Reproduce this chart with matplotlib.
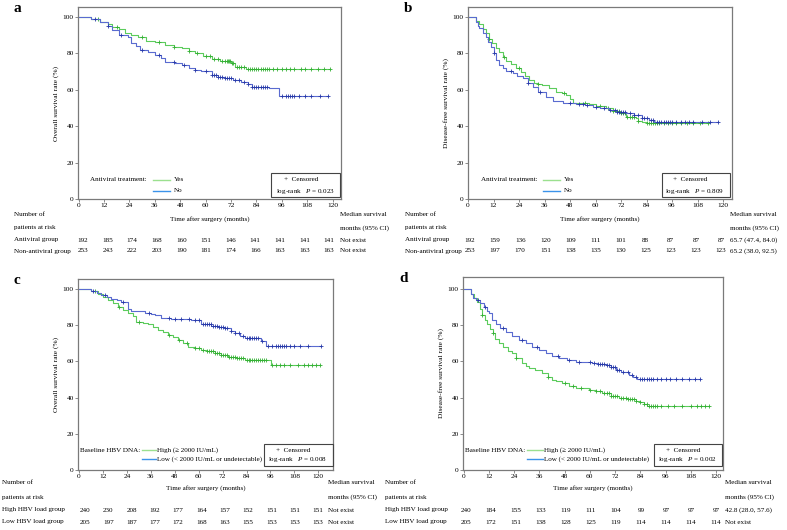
"""
Curvas de Kaplan-Meier (4 paneles) con tablas de pacientes en riesgo.
Salida: out.png (787x530)
"""

import numpy as np

import matplotlib
matplotlib.use("Agg")
import matplotlib.pyplot as plt
from matplotlib.lines import Line2D
from matplotlib.patches import Rectangle

plt.rcParams["font.family"] = ["Liberation Serif", "DejaVu Serif"]
plt.rcParams["mathtext.fontset"] = "custom"
plt.rcParams["mathtext.rm"] = "Liberation Serif"
plt.rcParams["mathtext.it"] = "Liberation Serif:italic"

# ---------------- datos ----------------
MESES = [0, 12, 24, 36, 48, 60, 72, 84, 96, 108, 120]

# a: sobrevida global, antiviral si / no
a_yes_t = [0, 6, 10, 14, 16, 19, 22, 25, 28, 32, 36, 41, 45, 49, 52, 55, 59, 63, 67, 72, 74, 79]
a_yes_s = [100, 99, 97.5, 96, 94.7, 93.5, 91, 90, 89.2, 87, 86.5, 84.6, 83.5, 82.8, 81.5, 80, 78.5, 76.8, 76, 75, 72.7, 71.2]
a_yes_end = 119
a_yes_cens = [9, 18, 30, 38, 45, 52, 56, 60, 62, 64, 66, 68, 69, 70, 70.5, 71, 71.5, 72.5, 73, 75, 76, 77, 78, 80, 81, 82,
              83, 84, 85, 86, 87, 88, 89, 90, 92, 94, 96, 98, 100, 102, 105, 107, 110, 113, 116, 119]
a_no_t = [0, 6, 10, 14, 16, 19, 23.6, 25, 27, 29, 33, 36, 39, 41, 45.7, 49, 52, 55, 58, 63, 66, 69, 73, 77, 80, 82, 90, 94.5]
a_no_s = [100, 99, 97.5, 95, 92.8, 90, 89.2, 85.5, 84, 81.9, 80.5, 79.1, 77.5, 75.5, 75, 73.5, 71.8, 71, 70.3, 68.1,
          67.3, 66.3, 65.5, 64.5, 63, 61.4, 60.8, 56.6]
a_no_end = 118
a_no_cens = [8, 14, 20, 30, 38, 45, 50, 55, 60, 63, 64, 65, 66, 67, 68, 69, 70, 71, 72, 74, 76, 78, 80, 82, 83, 84, 85,
             86, 87, 88, 89, 96, 98, 99, 100, 101, 102, 104, 107, 110, 114, 118]

# b: sobrevida libre de enfermedad, antiviral si / no
b_yes_t = [0, 3.8, 5, 7, 8.5, 10, 11.5, 13.2, 14.5, 16.3, 18, 20, 22.6, 25, 27, 28.9, 31, 33, 35, 38, 41.4, 44, 46, 48,
           49.3, 57, 60, 65, 68, 71.2, 74.3, 79, 80, 82, 84]
b_yes_s = [100, 98, 96, 93.5, 91, 88, 85.5, 82.8, 80.5, 78.2, 76, 74, 71.8, 70, 67.5, 65.4, 64, 63, 62.6, 61, 59, 58,
           57.1, 55, 53, 52.3, 51, 49.9, 48.5, 47.1, 45, 44.4, 43, 42.5, 41.8]
b_yes_end = 113
b_yes_cens = [10, 17, 24, 33, 45, 55, 62, 66, 68, 70, 71, 72, 73, 74, 75, 76, 77, 78, 80, 84, 85, 86, 87, 88, 89, 90,
              92, 94, 96, 98, 100, 103, 106, 109, 113]
b_no_t = [0, 3.8, 4.5, 5.3, 7, 8.5, 9.5, 10.8, 12, 13.2, 14.5, 16.3, 18, 21, 23, 25.7, 28, 30.4, 33, 36.7, 40, 44.5,
          50.8, 55, 58.7, 62, 66.5, 70, 74.3, 78, 82, 85, 87.6]
b_no_s = [100, 97, 95, 93.7, 91, 89.2, 86.5, 83.7, 80, 76.4, 73.5, 71.8, 70.5, 69.1, 67.5, 66.3, 64, 61.7, 59, 56.2,
          54, 52.6, 52, 51.5, 50.7, 50, 48.9, 48, 47.1, 46, 44.4, 43.5, 42.3]
b_no_end = 117.6
b_no_cens = [12, 20, 28, 34, 48, 52, 54, 56, 60, 64, 67, 69, 70, 71, 72, 73, 74, 76, 78, 80, 82, 83, 84, 86, 87, 89,
             90, 91, 92, 93, 94, 95, 96, 98, 100, 102, 104, 106, 110, 114, 117.6]

# c: sobrevida global, carga HBV alta / baja
c_high_t = [0, 6, 9.5, 12, 14.5, 17, 19.6, 22, 24.6, 27, 28.8, 32, 34.6, 37, 39.6, 42, 44.6, 47, 49.6, 52, 54.7, 58,
            61.4, 64, 68, 71, 74.7, 79, 83, 96.4]
c_high_s = [100, 99, 97.4, 95.5, 93.8, 92, 90.1, 88.5, 86.5, 85, 81.9, 81, 80.4, 79, 77.3, 76, 74.6, 73.5, 71.8, 70,
            68.2, 67.5, 66.3, 65.7, 64.9, 63.8, 62.7, 61.8, 60.9, 58.1]
c_high_end = 120.7
c_high_cens = [8, 20, 30, 45, 50, 54, 58, 60, 62, 64, 65, 66, 67, 68, 69, 70, 71, 72, 73, 74, 75, 76, 77, 78, 79, 80,
               81, 82, 84, 85, 86, 87, 88, 89, 90, 91, 92, 93, 94, 97, 99, 101, 103, 106, 110, 113, 115, 117, 119, 120.7]
c_low_t = [0, 6.2, 9, 11.2, 14, 16.2, 19, 21.2, 24.6, 26.2, 32.9, 36, 38, 41.3, 46.3, 56.3, 61.4, 66.4, 70, 73, 76,
           78, 80.5, 83, 91.4, 93.9]
c_low_s = [100, 99, 97.8, 96.5, 95.5, 94.7, 93.8, 92.9, 89.2, 87.7, 87, 86.2, 85.5, 84.1, 83.3, 82.8, 80.4, 79.5,
           78.8, 78.2, 76.8, 75.5, 74, 72.7, 71.2, 68.5]
c_low_end = 121.5
c_low_cens = [7, 13, 22, 35, 45, 48, 51, 55, 58, 60, 62, 63, 64, 65, 66, 67, 68, 69, 70, 71, 72, 73, 74, 76, 78, 80,
              82, 84, 85, 86, 87, 88, 89, 90, 92, 95, 97, 99, 100, 101, 102, 103, 104, 106, 108, 111, 115, 121.5]

# d: sobrevida libre de enfermedad, carga HBV alta / baja
d_high_t = [0, 3.5, 5, 6.6, 8, 9, 10, 11.4, 12.5, 13.8, 15, 16.9, 19, 21, 23.2, 25, 28, 29.5, 31.1, 34, 37.5, 40,
            42.2, 44, 46.9, 50, 53.3, 59.6, 63, 66, 70, 73.9, 78, 81.8, 84, 85.8, 87.3]
d_high_s = [100, 97, 95, 92.9, 89, 85.5, 83, 80.9, 78, 75.5, 72.5, 69.9, 68, 66, 64.5, 62, 59, 57.5, 56.2, 55, 53.5,
            51.5, 49.9, 49, 48.1, 46.5, 45.3, 44.4, 43.5, 42.6, 41, 39.9, 39, 38.1, 37.5, 36.6, 35.2]
d_high_end = 116.7
d_high_cens = [9, 14, 25, 40, 48, 52, 56, 60, 63, 65, 67, 68, 69, 70, 71, 72, 73, 75, 76, 77, 78, 79, 80, 81, 82, 84,
               86, 87, 88, 89, 90, 91, 92, 94, 97, 100, 104, 108, 111, 113, 115, 116.7]
d_low_t = [0, 3.5, 4.5, 5.9, 8, 9.8, 11, 12.2, 13.5, 15.3, 17.5, 20.1, 23, 26.4, 29.5, 32.7, 36, 39, 42, 45.4, 49,
           53.3, 61.2, 64, 67.5, 70, 72.3, 75, 78.6, 80.5, 82.5]
d_low_s = [100, 97, 95, 93.8, 92, 90.1, 88, 86.5, 83, 80.4, 78.5, 76.4, 74, 71.8, 70, 68.2, 66.5, 64.5, 63, 61.7,
           60.5, 59.9, 59, 58.5, 58.1, 56.8, 55.3, 54, 52.6, 51.3, 50.2]
d_low_end = 112.4
d_low_cens = [7, 10, 19, 28, 35, 45, 50, 55, 60, 62, 64, 65, 66, 67, 68, 69, 70, 71, 72, 73, 74, 76, 78, 80, 82, 84,
              85, 86, 87, 88, 89, 90, 92, 94, 96, 98, 101, 104, 107, 110, 112.4]

# tablas de pacientes en riesgo
a_risk_yes = [192, 185, 174, 168, 160, 151, 146, 141, 141, 141, 141]
a_risk_no = [253, 243, 222, 203, 190, 181, 174, 166, 163, 163, 163]
b_risk_yes = [192, 159, 136, 120, 109, 111, 101, 88, 87, 87, 87]
b_risk_no = [253, 197, 170, 151, 138, 135, 130, 125, 123, 123, 123]
c_risk_high = [240, 230, 208, 192, 177, 164, 157, 152, 151, 151, 151]
c_risk_low = [205, 197, 187, 177, 172, 168, 163, 155, 153, 153, 153]
d_risk_high = [240, 184, 155, 133, 119, 111, 104, 99, 97, 97, 97]
d_risk_low = [205, 172, 151, 138, 128, 125, 119, 114, 114, 114, 114]

a_median = ["Not exist", "Not exist"]
b_median = ["65.7 (47.4, 84.0)", "65.2 (38.0, 92.5)"]
c_median = ["Not exist", "Not exist"]
d_median = ["42.8 (28.0, 57.6)", "Not exist"]

grupos_av = ["Antiviral group", "Non-antiviral group"]
grupos_hbv = ["High HBV load group", "Low HBV load group"]

# ---------------- estilo ----------------
W, H = 787, 530
VERDE, AZUL = "#5ccc5c", "#5a6bd0"
VERDE_C, AZUL_C = "#33b033", "#2638a8"
VERDE_L, AZUL_L = "#9be08f", "#3b93ea"
GRIS = "#7a7a7a"
FS = 5.1

fig = plt.figure(figsize=(W / 100, H / 100), dpi=100)


def fx(x):
    return x / W


def fy(y):
    return 1 - y / H


def txt(x, y, s, **kw):
    kw.setdefault("fontsize", FS)
    kw.setdefault("va", "center")
    fig.text(fx(x), fy(y), s, **kw)


def linea(x0, x1, y, color):
    fig.add_artist(Line2D([fx(x0), fx(x1)], [fy(y), fy(y)], transform=fig.transFigure, color=color, lw=1.0))


def step_val(t, s, c):
    i = np.searchsorted(np.array(t), np.array(c), side="right") - 1
    return np.array(s)[i]


def curva(ax, t, s, end, cens, col, colc):
    ax.step(list(t) + [end], list(s) + [s[-1]], where="post", color=col, lw=0.8)
    ax.plot(cens, step_val(t, s, cens), "+", color=colc, ms=2.6, mew=0.6, ls="none")


def panel(letra, box, px0, px120, y100, ylabel):
    l, t, r, b = box
    ax = fig.add_axes([fx(l), fy(b), (r - l) / W, (b - t) / H])
    sx = (px120 - px0) / 120
    sy = (b - y100) / 100
    ax.set_xlim((l - px0) / sx, (r - px0) / sx)
    ax.set_ylim(0, (b - t) / sy)
    ax.set_xticks(MESES)
    ax.set_yticks([0, 20, 40, 60, 80, 100])
    ax.tick_params(labelsize=FS + 0.2, length=2, width=0.6, pad=1, color=GRIS)
    for sp in ax.spines.values():
        sp.set_color(GRIS)
        sp.set_linewidth(0.9)
    ax.set_ylabel(ylabel, fontsize=FS + 0.3, labelpad=3)
    txt(l - 64, t + 2, letra, fontsize=11, fontweight="bold", ha="left")
    return ax


def tabla(box, lab_x, med_x, rows_y, risk1, risk2, nombres, med, col0, col1):
    l, t, r, b = box
    txt((l + r) / 2, rows_y[0] + 5, "Time after surgery (months)", ha="center")
    txt(lab_x, rows_y[0], "Number of", ha="left")
    txt(lab_x, rows_y[1], "patients at risk", ha="left")
    txt(med_x, rows_y[0], "Median survival", ha="left")
    txt(med_x, rows_y[1], "months (95% CI)", ha="left")
    cols = np.linspace(col0, col1, len(MESES))
    for y, nom, risk, m in zip(rows_y[2:], nombres, [risk1, risk2], med):
        txt(lab_x, y, nom, ha="left")
        for xc, n in zip(cols, risk):
            txt(xc, y, str(n), ha="center")
        txt(med_x, y, m, ha="left")


def leyenda(titulo, tx, ty, lx0, lx1, ly2, lab_x, labs, caja, cx, pval):
    txt(tx, ty, titulo, ha="left")
    linea(lx0, lx1, ty, VERDE_L)
    linea(lx0, lx1, ly2, AZUL_L)
    txt(lab_x, ty, labs[0], ha="left")
    txt(lab_x, ly2, labs[1], ha="left")
    x0, y0, x1, y1 = caja
    fig.add_artist(Rectangle((fx(x0), fy(y1)), (x1 - x0) / W, (y1 - y0) / H, transform=fig.transFigure,
                             fill=False, edgecolor="#444444", lw=0.8))
    txt(cx + 8, ty, "+  Censored", ha="left")
    txt(cx, ly2, r"log-rank   $P$ = " + pval, ha="left")


# ---------------- panel a ----------------
box_a = (78, 7, 341, 199)
ax = panel("a", box_a, 78.5, 332.5, 17, "Overall survival rate (%)")
curva(ax, a_yes_t, a_yes_s, a_yes_end, a_yes_cens, VERDE, VERDE_C)
curva(ax, a_no_t, a_no_s, a_no_end, a_no_cens, AZUL, AZUL_C)
leyenda("Antiviral treatment:", 90, 180, 153, 170, 191, 174, ["Yes", "No"], (271, 173, 340, 197), 276, "0.023")
tabla(box_a, 14, 340, [214, 228, 240, 251], a_risk_yes, a_risk_no, grupos_av, a_median, 83, 329)

# ---------------- panel b ----------------
box_b = (468, 7, 732, 199)
ax = panel("b", box_b, 468, 723, 17, "Disease-free survival rate (%)")
curva(ax, b_yes_t, b_yes_s, b_yes_end, b_yes_cens, VERDE, VERDE_C)
curva(ax, b_no_t, b_no_s, b_no_end, b_no_cens, AZUL, AZUL_C)
leyenda("Antiviral treatment:", 481, 180, 543, 560, 191, 564, ["Yes", "No"], (662, 173, 730, 197), 665, "0.809")
tabla(box_b, 405, 730, [214, 228, 240, 251], b_risk_yes, b_risk_no, grupos_av, b_median, 470, 721)

# ---------------- panel c ----------------
box_c = (78, 279, 333, 470)
ax = panel("c", box_c, 79, 318.3, 289, "Overall survival rate (%)")
curva(ax, c_high_t, c_high_s, c_high_end, c_high_cens, VERDE, VERDE_C)
curva(ax, c_low_t, c_low_s, c_low_end, c_low_cens, AZUL, AZUL_C)
leyenda("Baseline HBV DNA:", 80, 450, 142, 156, 459, 157,
        ["High (\u2265 2000 IU/mL)", "Low (< 2000 IU/mL or undetectable)"], (264, 444, 333, 466), 268, "0.008")
tabla(box_c, 2, 328, [483, 497, 510, 522], c_risk_high, c_risk_low, grupos_hbv, c_median, 85, 318)

# ---------------- panel d ----------------
box_d = (463, 277, 723, 470)
ax = panel("d", box_d, 463.5, 716, 289, "Disease-free survival rate (%)")
curva(ax, d_high_t, d_high_s, d_high_end, d_high_cens, VERDE, VERDE_C)
curva(ax, d_low_t, d_low_s, d_low_end, d_low_cens, AZUL, AZUL_C)
leyenda("Baseline HBV DNA:", 465, 450, 527, 543, 459, 544,
        ["High (\u2265 2000 IU/mL)", "Low (< 2000 IU/mL or undetectable)"], (654, 444, 722, 466), 658, "0.002")
tabla(box_d, 385, 725, [483, 497, 510, 522], d_risk_high, d_risk_low, grupos_hbv, d_median, 466, 716)

fig.savefig("out.png", dpi=100)
